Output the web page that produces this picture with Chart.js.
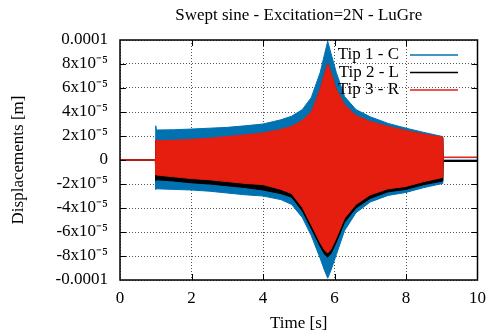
<!DOCTYPE html>
<html>
<head>
<meta charset="utf-8">
<script src="https://cdn.jsdelivr.net/npm/chart.js@4/dist/chart.umd.min.js"></script>
<style>
  html, body { margin: 0; padding: 0; background: #fff; }
  canvas { display: block; }
</style>
</head>
<body>
<canvas id="myChart" width="494" height="335"></canvas>
<script>
const TITLE = 'Swept sine - Excitation=2N - LuGre';
const seriesNames = ['Tip 1 - C', 'Tip 2 - L', 'Tip 3 - R'];
const seriesColors = ['#0072b2', '#000000', '#e51e10'];

// time samples [s]
const times = [0, 0.99, 1.0, 1.02, 1.5, 2, 2.5, 3, 3.5, 4, 4.5, 4.8, 5.1, 5.35, 5.6, 5.72, 5.81, 5.9, 6.05, 6.28, 6.6, 7, 7.5, 8, 8.5, 9.03, 9.04, 10];

// upper / lower envelope of each tip, in units of 1e-5 m
const tip1Max = [0, 0, 2.85, 2.5, 2.52, 2.58, 2.65, 2.72, 2.85, 3.0, 3.35, 3.65, 4.2, 5.2, 7.3, 8.8, 9.9, 8.9, 7.3, 5.3, 4.2, 3.6, 3.05, 2.65, 2.3, 1.95, 0, 0];
const tip1Min = [0, 0, -2.45, -2.4, -2.45, -2.5, -2.6, -2.75, -2.9, -3.0, -3.3, -3.7, -4.8, -6.3, -8.2, -9.2, -9.85, -9.2, -7.9, -5.9, -4.4, -3.5, -2.95, -2.7, -2.3, -1.95, -0.1, -0.1];
const tip2Max = [0, 0, 1.6, 1.5, 1.55, 1.62, 1.72, 1.85, 2.0, 2.15, 2.45, 2.7, 3.2, 3.9, 5.8, 7.1, 7.95, 7.2, 5.8, 4.5, 3.6, 3.1, 2.7, 2.35, 2.05, 1.8, -0.05, -0.05];
const tip2Min = [0, 0, -1.7, -1.65, -1.75, -1.9, -2.0, -2.15, -2.3, -2.5, -2.8, -3.1, -4.25, -5.7, -7.2, -7.85, -8.1, -7.8, -6.85, -5.2, -4.0, -3.2, -2.65, -2.45, -2.05, -1.75, -0.12, -0.12];
const tip3Max = [0, 0, 1.7, 1.6, 1.65, 1.72, 1.82, 1.95, 2.1, 2.25, 2.55, 2.8, 3.3, 4.0, 5.9, 7.2, 8.05, 7.3, 5.9, 4.6, 3.7, 3.2, 2.8, 2.45, 2.15, 1.9, 0.25, 0.25];
const tip3Min = [0, 0, -1.25, -1.25, -1.4, -1.55, -1.65, -1.8, -1.95, -2.05, -2.45, -2.8, -3.95, -5.4, -6.9, -7.5, -7.75, -7.45, -6.5, -4.85, -3.7, -2.9, -2.4, -2.2, -1.8, -1.45, 0.2, 0.2];

const xTicks = [0, 2, 4, 6, 8, 10];
const yTicks = [-10, -8, -6, -4, -2, 0, 2, 4, 6, 8, 10];
const yTickLabels = ['-0.0001', '-8x10\u207B\u2075', '-6x10\u207B\u2075', '-4x10\u207B\u2075', '-2x10\u207B\u2075', '0',
                     '2x10\u207B\u2075', '4x10\u207B\u2075', '6x10\u207B\u2075', '8x10\u207B\u2075', '0.0001'];

const SERIF = "'Liberation Serif', 'Times New Roman', serif";

function points(values) {
    return times.map((t, i) => ({ x: t, y: values[i] }));
}

// two datasets per tip: upper edge, and lower edge filled up to it
function envelope(idx, upper, lower, order) {
    const col = seriesColors[idx];
    return [
        { label: seriesNames[idx], data: points(upper), borderColor: col, backgroundColor: col,
          borderWidth: 1, pointRadius: 0, tension: 0, fill: false, order: order },
        { label: seriesNames[idx] + ' min', data: points(lower), borderColor: col, backgroundColor: col,
          borderWidth: 1, pointRadius: 0, tension: 0, fill: '-1', order: order }
    ];
}

const datasets = [].concat(
    envelope(0, tip1Max, tip1Min, 3),
    envelope(1, tip2Max, tip2Min, 2),
    envelope(2, tip3Max, tip3Min, 1)
);

// gnuplot look: frame, inward ticks, title and key
const gnuplotFrame = {
    id: 'gnuplotFrame',
    afterDatasetsDraw(chart) {
        const c = chart.ctx;
        const a = chart.chartArea;
        const xs = chart.scales.x, ys = chart.scales.y;
        c.save();
        c.strokeStyle = '#000';
        c.lineWidth = 1;
        c.beginPath();
        xTicks.slice(1, -1).forEach(v => {
            const px = Math.round(xs.getPixelForValue(v)) + 0.5;
            c.moveTo(px, a.bottom); c.lineTo(px, a.bottom - 6);
            c.moveTo(px, a.top); c.lineTo(px, a.top + 6);
        });
        yTicks.slice(1, -1).forEach(v => {
            const py = Math.round(ys.getPixelForValue(v)) + 0.5;
            c.moveTo(a.left, py); c.lineTo(a.left + 6, py);
            c.moveTo(a.right, py); c.lineTo(a.right - 6, py);
        });
        c.stroke();
        c.lineWidth = 1.5;
        c.strokeRect(a.left, a.top, a.right - a.left, a.bottom - a.top);

        // title
        c.fillStyle = '#000';
        c.font = '17px ' + SERIF;
        c.textAlign = 'center';
        c.textBaseline = 'alphabetic';
        c.fillText(TITLE, (a.left + a.right) / 2, 20);

        // key
        c.textAlign = 'right';
        c.textBaseline = 'middle';
        seriesNames.forEach((name, i) => {
            const y = 55 + i * 17.5;
            c.fillStyle = '#000';
            c.fillText(name, 399, y);
            c.strokeStyle = seriesColors[i];
            c.lineWidth = 1.5;
            c.beginPath();
            c.moveTo(410, y); c.lineTo(458, y);
            c.stroke();
        });
        c.restore();
    }
};

const config = {
    type: 'line',
    data: { datasets: datasets },
    options: {
        responsive: false,
        animation: false,
        events: [],
        layout: { padding: { top: 40, right: 16, left: 0, bottom: 0 } },
        plugins: {
            legend: { display: false },
            title: { display: false },
            tooltip: { enabled: false }
        },
        scales: {
            x: {
                type: 'linear',
                min: 0,
                max: 10,
                afterFit(scale) { scale.height = 55; },
                afterBuildTicks(scale) { scale.ticks = xTicks.map(v => ({ value: v })); },
                ticks: { color: '#000', font: { family: SERIF, size: 17 }, padding: 8, maxRotation: 0 },
                grid: { color: '#555', lineWidth: 1, drawTicks: false },
                border: { display: false, dash: [1, 2] },
                title: { display: true, text: 'Time [s]', color: '#000', font: { family: SERIF, size: 17 }, padding: { top: 0, bottom: 1 } }
            },
            y: {
                type: 'linear',
                min: -10,
                max: 10,
                afterFit(scale) { scale.width = 120; },
                afterBuildTicks(scale) { scale.ticks = yTicks.map(v => ({ value: v })); },
                ticks: {
                    color: '#000',
                    font: { family: SERIF, size: 17 },
                    padding: 12,
                    callback: (v) => yTickLabels[yTicks.indexOf(v)]
                },
                grid: { color: '#555', lineWidth: 1, drawTicks: false },
                border: { display: false, dash: [1, 2] },
                title: { display: true, text: 'Displacements [m]', color: '#000', font: { family: SERIF, size: 17 }, padding: { top: 8, bottom: 0 } }
            }
        }
    },
    plugins: [gnuplotFrame]
};

const myChart = new Chart(document.getElementById('myChart'), config);
</script>
</body>
</html>
